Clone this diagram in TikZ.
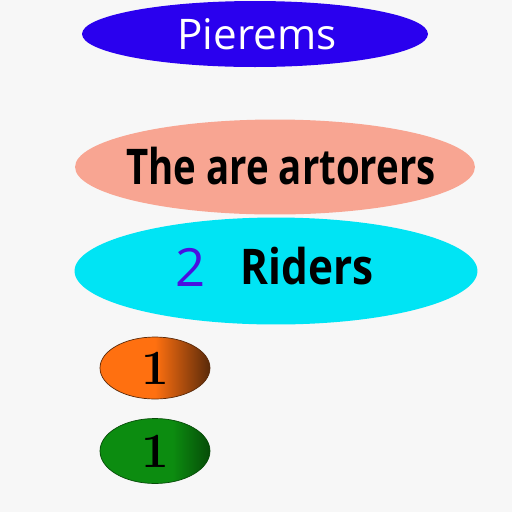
\documentclass[tikz,border=0pt]{standalone}
\usepackage{fontspec}
\usepackage{graphicx}
\setmainfont{Latin Modern Roman}
\newfontfamily\opensans{Open Sans}
\usetikzlibrary{shapes.geometric}
\definecolor{pillblue}{HTML}{2A00EE}
\definecolor{salmonfill}{HTML}{F8A592}
\definecolor{cyanfill}{HTML}{00E4F4}
\definecolor{twopurple}{HTML}{4A10E0}
\definecolor{backgr}{HTML}{F7F7F7}
\definecolor{orangefill}{HTML}{FF7010}
\definecolor{orangedark}{HTML}{5A2A0A}
\definecolor{greenfill}{HTML}{0C8C10}
\definecolor{greendark}{HTML}{064C08}
\pgfdeclarehorizontalshading{orangeedge}{100bp}{color(0bp)=(orangefill); color(50bp)=(orangefill); color(75bp)=(orangedark); color(100bp)=(orangedark)}
\pgfdeclarehorizontalshading{greenedge}{100bp}{color(0bp)=(greenfill); color(58bp)=(greenfill); color(75bp)=(greendark); color(100bp)=(greendark)}
\newcommand{\narrow}[2]{\scalebox{#1}[1]{#2}}
\begin{document}
\begin{tikzpicture}[x=0.02cm, y=-0.02cm,
    pill/.style={ellipse, inner sep=0pt},
    bigtext/.style={font=\opensans\fontsize{24}{28}\selectfont},
    boldtext/.style={font=\opensans\bfseries\fontsize{28}{32}\selectfont},
    digit/.style={font=\bfseries\fontsize{28}{32}\selectfont}]
  % ---- the page, its margins included ----
  \fill[backgr] (0,0) rectangle (512,512);
  \useasboundingbox (0,0) rectangle (512,512);

  % ---- the three wide ellipses ----
  \node[pill, fill=pillblue, minimum width=6.92cm, minimum height=1.32cm]
       (pierems) at (255,34) {};
  \node[bigtext, text=white] (pieremstext) at (257,34) {Pierems};

  \node[pill, fill=salmonfill, minimum width=8.0cm, minimum height=1.9cm]
       (artorers) at (275,167) {};
  \node[boldtext] (artorerstext) at (281,166) {\narrow{0.78}{The are artorers}};

  \node[pill, fill=cyanfill, minimum width=8.06cm, minimum height=2.14cm]
       (riders) at (276,271) {};
  \node[bigtext, font=\opensans\fontsize{30}{34}\selectfont, text=twopurple]
       (two) at (191,267) {2};
  \node[boldtext] (riderstext) at (307,266) {\narrow{0.86}{Riders}};

  % ---- the two small shaded ones ----
  \node[pill, draw=orangedark, thin, shading=orangeedge,
        minimum width=2.2cm, minimum height=1.24cm] (orangeone) at (155,368) {};
  \node[digit] at (orangeone) {1};

  \node[pill, draw=greendark, thin, shading=greenedge,
        minimum width=2.2cm, minimum height=1.3cm] (greenone) at (155,451) {};
  \node[digit] at (greenone) {1};
\end{tikzpicture}
\end{document}
